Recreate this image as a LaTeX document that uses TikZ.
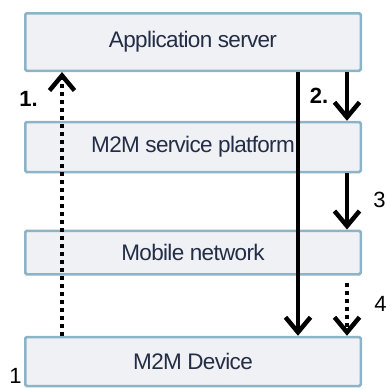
\documentclass[tikz,border=0pt]{standalone}
\usepackage{fontspec}
\setmainfont{Liberation Sans}
\usetikzlibrary{arrows.meta}
\definecolor{boxfill}{HTML}{F0F1F4}
\definecolor{boxline}{HTML}{8DB4C6}
\definecolor{boxtext}{HTML}{232D45}

\tikzset{%
	layer/.style={
		draw=boxline,
		fill=boxfill,
		line width=2.5pt,
		rounded corners=1.5pt,
		minimum width=335.5pt,
		inner sep=0pt,
		text=boxtext,
		font=\addfontfeature{LetterSpace=-3}\fontsize{22.5}{24}\selectfont
	},
	msg/.style={line width=4.5pt, -{Straight Barb[length=15pt,width=25pt,line width=4.5pt]}},
	msg dotted/.style={msg, dash pattern=on 4pt off 4pt},
	num/.style={inner sep=0pt, font=\fontsize{22}{24}\selectfont},
}

\begin{document}
\begin{tikzpicture}[x=1pt, y=-1pt]
\useasboundingbox (0,0) rectangle (386,389);

% the four layers
\foreach \n/\t/\y/\h in {app/Application server/42/57.5, m2m/M2M service platform/147/50, net/Mobile network/252.5/43.5, dev/M2M Device/361.5/49}
{
	\node [layer, minimum height=\h pt] (\n) at (193,\y) {\t};
}

% columns of the arrows
\coordinate (col1) at (62,0);
\coordinate (col2) at (298,0);
\coordinate (col3) at (347,0);

\draw [msg dotted] (dev.north -| col1) -- (app.south -| col1);
\draw [msg] (app.south -| col2) -- (dev.north -| col2);
\draw [msg] (app.south -| col3) -- (m2m.north -| col3);
\draw [msg] (m2m.south -| col3) -- (net.north -| col3);
\draw [msg dotted, shorten <=7pt] (net.south -| col3) -- (dev.north -| col3);

% step numbers
\node [num] (n1) at (28.5,99) {\textbf{1.}};
\node [num] (n2) at (319,95.5) {\textbf{2.}};
\node [num] (n3) at (379.5,200) {3};
\node [num] (n4) at (380.5,304) {4};
\node [num] (n0) at (15.5,376) {1};

\end{tikzpicture}
\end{document}
